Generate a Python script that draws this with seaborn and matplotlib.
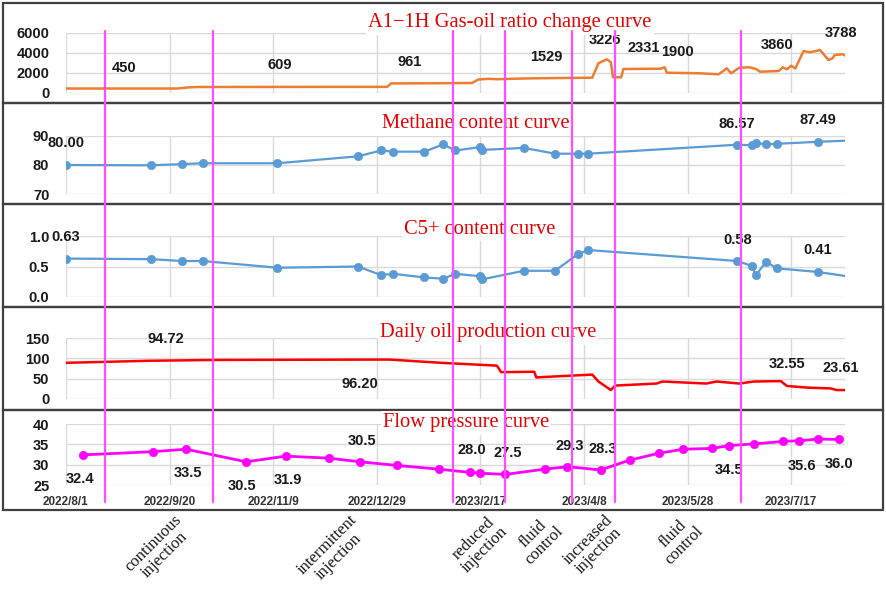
import matplotlib
matplotlib.use('Agg')
import matplotlib.pyplot as plt
import matplotlib.dates as mdates
import matplotlib.transforms as mtransforms
from matplotlib.patches import Rectangle
from matplotlib.lines import Line2D
import pandas as pd
import seaborn as sns

# ---- data ----
gor_dates = ['2022-08-01', '2022-09-24', '2022-09-29', '2022-10-03', '2022-11-15', '2023-01-03',
             '2023-01-05', '2023-01-25', '2023-02-13', '2023-02-16', '2023-02-21', '2023-02-25',
             '2023-03-12', '2023-03-28', '2023-04-12', '2023-04-15', '2023-04-19', '2023-04-21',
             '2023-04-22', '2023-04-26', '2023-04-27', '2023-05-15', '2023-05-17', '2023-05-18',
             '2023-06-03', '2023-06-12', '2023-06-16', '2023-06-18', '2023-06-22', '2023-06-27',
             '2023-06-30', '2023-07-02', '2023-07-11', '2023-07-13', '2023-07-15', '2023-07-17',
             '2023-07-19', '2023-07-23', '2023-07-26', '2023-07-29', '2023-07-31', '2023-08-04',
             '2023-08-06', '2023-08-07', '2023-08-11', '2023-08-13']
gor_values = [450, 450, 560, 600, 609, 615, 960, 975, 1000, 1350, 1420, 1380, 1460, 1500, 1530,
              2970, 3370, 3070, 1570, 1570, 2400, 2430, 2570, 2030, 1970, 1870, 2470, 1970, 2530,
              2570, 2400, 2130, 2200, 2570, 2370, 2730, 2450, 4200, 4070, 4200, 4300, 3300, 3470,
              3800, 3870, 3630]

sample_dates = ['2022-08-01', '2022-09-11', '2022-09-26', '2022-10-06', '2022-11-11', '2022-12-20',
                '2022-12-31', '2023-01-06', '2023-01-21', '2023-01-30', '2023-02-05', '2023-02-17',
                '2023-02-18', '2023-03-10', '2023-03-25', '2023-04-05', '2023-04-10', '2023-06-21',
                '2023-06-28', '2023-06-30', '2023-07-05', '2023-07-10', '2023-07-30', '2023-08-13']
methane = [80.0, 79.9, 80.3, 80.6, 80.6, 83.0, 85.0, 84.6, 84.6, 87.1, 85.0, 86.2, 85.2, 85.9,
           83.9, 83.9, 83.9, 87.0, 86.8, 87.6, 87.1, 87.3, 88.0, 88.4]
c5plus = [0.63, 0.62, 0.59, 0.59, 0.48, 0.50, 0.36, 0.38, 0.32, 0.30, 0.38, 0.34, 0.29, 0.43,
          0.43, 0.70, 0.77, 0.59, 0.51, 0.36, 0.58, 0.47, 0.41, 0.34]

oil_dates = ['2022-08-01', '2022-09-10', '2022-10-11', '2023-01-04', '2023-01-29', '2023-02-25',
             '2023-02-27', '2023-03-15', '2023-03-16', '2023-03-27', '2023-04-04', '2023-04-12',
             '2023-04-15', '2023-04-21', '2023-04-23', '2023-05-13', '2023-05-16', '2023-06-06',
             '2023-06-11', '2023-06-22', '2023-06-29', '2023-07-12', '2023-07-15', '2023-07-25',
             '2023-08-05', '2023-08-08', '2023-08-13']
oil_values = [89, 94, 96, 97, 89, 82, 66, 67, 53, 56, 58, 60, 43, 22, 33, 38, 43, 38, 43, 38, 43,
              44, 32, 28, 26, 22, 22]

pressure_dates = ['2022-08-09', '2022-09-12', '2022-09-28', '2022-10-27', '2022-11-15', '2022-12-06',
                  '2022-12-21', '2023-01-08', '2023-01-28', '2023-02-12', '2023-02-17', '2023-03-01',
                  '2023-03-20', '2023-03-31', '2023-04-16', '2023-04-30', '2023-05-14', '2023-05-26',
                  '2023-06-09', '2023-06-17', '2023-06-29', '2023-07-13', '2023-07-21', '2023-07-30',
                  '2023-08-09']
pressure = [32.4, 33.2, 33.8, 30.7, 32.1, 31.6, 30.7, 29.8, 28.9, 28.1, 27.9, 27.6, 28.9, 29.5,
            28.7, 31.1, 32.8, 33.8, 34.0, 34.7, 35.1, 35.7, 35.9, 36.3, 36.2]

# data labels (text, date, y position)
gor_labels = ['450', '609', '961', '1529', '3226', '2331', '1900', '3860', '3788']
gor_label_dates = ['2022-08-29', '2022-11-12', '2023-01-14', '2023-03-21', '2023-04-18',
                   '2023-05-07', '2023-05-23', '2023-07-10', '2023-08-10']
gor_label_y = [2500, 2800, 3100, 3600, 5300, 4500, 4100, 4800, 6000]

methane_labels = ['80.00', '86.57', '87.49']
methane_label_dates = ['2022-08-01', '2023-06-21', '2023-07-30']
methane_label_y = [87.6, 94.1, 95.5]

c5_labels = ['0.63', '0.58', '0.41']
c5_label_dates = ['2022-08-01', '2023-06-21', '2023-07-30']
c5_label_y = [0.99, 0.93, 0.77]

oil_labels = ['94.72', '96.20', '32.55', '23.61']
oil_label_dates = ['2022-09-18', '2022-12-21', '2023-07-15', '2023-08-10']
oil_label_y = [147, 37, 86, 76]

pressure_labels = ['32.4', '33.5', '30.5', '31.9', '30.5', '28.0', '27.5', '29.3', '28.3',
                   '34.5', '35.6', '36.0']
pressure_label_dates = ['2022-08-08', '2022-09-29', '2022-10-25', '2022-11-16', '2022-12-22',
                        '2023-02-13', '2023-03-02', '2023-04-01', '2023-04-17', '2023-06-17',
                        '2023-07-22', '2023-08-09']
pressure_label_y = [26.5, 28.0, 24.8, 26.2, 35.9, 33.6, 32.9, 34.7, 33.9, 28.7, 29.7, 30.2]

tick_dates = ['2022-08-01', '2022-09-20', '2022-11-09', '2022-12-29', '2023-02-17',
              '2023-04-08', '2023-05-28', '2023-07-17']
tick_labels = ['2022/8/1', '2022/9/20', '2022/11/9', '2022/12/29', '2023/2/17',
               '2023/4/8', '2023/5/28', '2023/7/17']

stage_bounds = ['2022-08-20', '2022-10-11', '2023-02-04', '2023-03-01', '2023-04-02',
                '2023-04-23', '2023-06-23']
stage_names = ['continuous\ninjection', 'intermittent\ninjection', 'reduced\ninjection',
               'fluid\ncontrol', 'increased\ninjection', 'fluid\ncontrol']

titles = ['A1\u22121H Gas-oil ratio change curve', 'Methane content curve', 'C5+ content curve',
          'Daily oil production curve', 'Flow pressure curve']

# ---- styling ----
sns.set_style('white')
plt.rcParams['font.family'] = ['Liberation Sans', 'DejaVu Sans']

ORANGE = '#ED7D31'
BLUE = '#5B9BD5'
RED = '#FF0000'
MAGENTA = '#FF00FF'
VLINE = '#FF4DFF'
GRID = '#D9D9D9'
LABEL_KW = dict(fontsize=10.5, fontweight='bold', color='#1a1a1a', ha='center', va='center')

fig = plt.figure(figsize=(8.86, 5.91), dpi=100)
H = 591.0
W = 886.0

def add_panel(top_px, bottom_px, sharex=None):
    return fig.add_axes([66 / W, 1 - bottom_px / H, (845 - 66) / W, (bottom_px - top_px) / H],
                        sharex=sharex)

ax1 = add_panel(33, 93)
ax2 = add_panel(136, 194, ax1)
ax3 = add_panel(236, 297, ax1)
ax4 = add_panel(338, 399, ax1)
ax5 = add_panel(424, 485, ax1)
axes = [ax1, ax2, ax3, ax4, ax5]

gor = pd.DataFrame({'date': pd.to_datetime(gor_dates), 'value': gor_values})
samples = pd.DataFrame({'date': pd.to_datetime(sample_dates), 'methane': methane, 'c5': c5plus})
oil = pd.DataFrame({'date': pd.to_datetime(oil_dates), 'value': oil_values})
press = pd.DataFrame({'date': pd.to_datetime(pressure_dates), 'value': pressure})

sns.lineplot(data=gor, x='date', y='value', ax=ax1, color=ORANGE, linewidth=1.8)

sns.lineplot(data=samples, x='date', y='methane', ax=ax2, color=BLUE, linewidth=1.6)
sns.scatterplot(data=samples.iloc[:-1], x='date', y='methane', ax=ax2, color=BLUE, s=36,
                edgecolor=BLUE, zorder=3)

sns.lineplot(data=samples, x='date', y='c5', ax=ax3, color=BLUE, linewidth=1.6)
sns.scatterplot(data=samples.iloc[:-1], x='date', y='c5', ax=ax3, color=BLUE, s=36,
                edgecolor=BLUE, zorder=3)

sns.lineplot(data=oil, x='date', y='value', ax=ax4, color=RED, linewidth=1.8)

sns.lineplot(data=press, x='date', y='value', ax=ax5, color=MAGENTA, linewidth=2.0)
sns.scatterplot(data=press, x='date', y='value', ax=ax5, color=MAGENTA, s=36,
                edgecolor=MAGENTA, zorder=3)

ylims = [(0, 6000), (70, 90), (0, 1.0), (0, 150), (25, 40)]
yticks = [[0, 2000, 4000, 6000], [70, 80, 90], [0, 0.5, 1.0], [0, 50, 100, 150], [25, 30, 35, 40]]
yticklabels = [['0', '2000', '4000', '6000'], ['70', '80', '90'], ['0.0', '0.5', '1.0'],
               ['0', '50', '100', '150'], ['25', '30', '35', '40']]

tick_pos = pd.to_datetime(tick_dates)
for ax, yl, yt, ytl in zip(axes, ylims, yticks, yticklabels):
    ax.set_ylim(*yl)
    ax.set_yticks(yt)
    ax.set_yticklabels(ytl, fontsize=10.5, fontweight='bold', color='#1a1a1a')
    ax.set_xlim(pd.Timestamp('2022-08-01'), pd.Timestamp('2023-08-12'))
    ax.set_xticks(tick_pos)
    ax.grid(True, color=GRID, linewidth=1)
    ax.set_axisbelow(True)
    for sp in ax.spines.values():
        sp.set_visible(False)
    ax.tick_params(axis='y', length=0, pad=12)
    ax.tick_params(axis='x', length=0, pad=8)
    ax.set_xlabel('')
    ax.set_ylabel('')
    ax.patch.set_alpha(0)
    if ax is not ax5:
        ax.tick_params(axis='x', labelbottom=False)

ax5.set_xticklabels(tick_labels, fontsize=8.5, fontweight='bold', color='#333333')

# data labels
label_sets = [
    (ax1, gor_labels, gor_label_dates, gor_label_y),
    (ax2, methane_labels, methane_label_dates, methane_label_y),
    (ax3, c5_labels, c5_label_dates, c5_label_y),
    (ax4, oil_labels, oil_label_dates, oil_label_y),
    (ax5, pressure_labels, pressure_label_dates, pressure_label_y),
]
for ax, texts, dates, ys in label_sets:
    for t, d, yv in zip(texts, dates, ys):
        ax.text(pd.Timestamp(d), yv, t, clip_on=False, zorder=6, **LABEL_KW)

# panel frames
bounds = [3, 103, 204, 307, 410, 510]
for top, bot in zip(bounds[:-1], bounds[1:]):
    fig.add_artist(Rectangle((3 / W, 1 - bot / H), 880 / W, (bot - top) / H,
                             transform=fig.transFigure, fill=False,
                             edgecolor='#404040', linewidth=1.6, zorder=1))

# panel titles
title_pos = [(510, 23), (476, 123), (480, 229), (488, 333), (466, 423)]
for t, (px, py) in zip(titles, title_pos):
    fig.text(px / W, 1 - py / H, t, fontsize=14.8, color='#E60000', ha='center', va='center',
             family=['Liberation Serif', 'DejaVu Serif'], zorder=4,
             bbox=dict(facecolor='white', edgecolor='none', pad=1.5))

# stage boundary lines through all panels
blend = mtransforms.blended_transform_factory(ax1.transData, fig.transFigure)
for b in stage_bounds:
    xv = mdates.date2num(pd.Timestamp(b))
    fig.add_artist(Line2D([xv, xv], [1 - 502 / H, 1 - 31 / H], transform=blend,
                          color=VLINE, linewidth=1.6, zorder=5))

# stage names under the chart, centered between boundaries
bts = pd.to_datetime(stage_bounds)
for i, name in enumerate(stage_names):
    mid = bts[i] + (bts[i + 1] - bts[i]) / 2
    fig.text(mdates.date2num(mid), 1 - 512 / H, name, transform=blend, rotation=45,
             ha='center', va='top', multialignment='center', fontsize=12,
             family=['Liberation Serif', 'DejaVu Serif'], color='#1a1a1a', linespacing=1.0)

fig.savefig('out.png', dpi=100)
